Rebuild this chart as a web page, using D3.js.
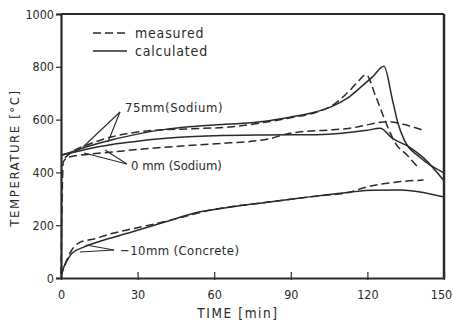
<!DOCTYPE html>
<html><head><meta charset="utf-8">
<script src="https://cdn.jsdelivr.net/npm/d3@7"></script>
<style>
body{margin:0;background:#fff;}
svg{display:block;}
text{font-family:"DejaVu Sans Condensed","DejaVu Sans",sans-serif;fill:#2a2a2a;}
</style></head><body>
<svg id="c" width="453" height="325"></svg>
<script>
// ---- data (time [min], temperature [°C]) ----
const xTicks = [0, 30, 60, 90, 120, 150];
const yTicks = [0, 200, 400, 600, 800, 1000];

const sodium75Calc = [[0,465],[5,480],[10,497],[20,524],[30,545],[40,562],[50,573],[60,580],[70,585],[80,594],[90,610],[100,630],[106,649],[112,680],[118,728],[122,762],[126.5,802],[129.8,675],[131.8,592],[134.4,523],[140.2,460],[150,398]];
const sodium75Meas = [[1.5,455],[5,482],[10,503],[20,535],[30,553],[36,559],[50,565],[66,572],[80,590],[90,607],[100,628],[106,652],[112,700],[116,740],[119.4,770],[123.3,687],[127.9,573],[131,510],[135.5,466],[140.2,415]];
const sodium0Calc  = [[0,465],[5,476],[10,488],[20,506],[30,518],[40,528],[50,535],[60,539],[80,542],[100,543],[110,548],[120,560],[125,567],[129.8,529],[136.3,497],[142,455],[150,368]];
const sodium0Meas  = [[0,15],[0.9,440],[3,458],[10,468],[20,477],[30,487],[40,495],[54,504],[66,512],[74,517],[82,528],[88,545],[94,554],[104,560],[113,567],[120,580],[125,590],[128,592],[134,582],[141.5,561]];
const concreteCalc = [[0,20],[1,40],[4.2,93],[8.7,116],[15,138],[28,175],[41,213],[54,250],[66,268],[80,286],[93,302],[113,325],[122,332],[133,333],[140,327],[150,307]];
const concreteMeas = [[0,5],[2,62],[4.2,106],[7.4,135],[14,150],[17.8,163],[25,180],[40,212],[60,260],[80,286],[100,310],[114,327],[118,340],[131,363],[142,371]];

const legendItems = [{label:"measured", dash:"8,4"},{label:"calculated", dash:null}];

const svg = d3.select("#c");
const col = "#2a2a2a";
const x = d3.scaleLinear().domain([0,150]).range([61,444]);
const y = d3.scaleLinear().domain([0,1000]).range([278,14]);

// frame
svg.append("line").attr("x1",x(0)).attr("x2",x(150)).attr("y1",y(1000)).attr("y2",y(1000)).attr("stroke",col).attr("stroke-width",2);
svg.append("line").attr("x1",x(150)).attr("x2",x(150)).attr("y1",y(1000)).attr("y2",y(0)).attr("stroke",col).attr("stroke-width",2.5);

// y axis
const ya = svg.append("g").attr("transform",`translate(${x(0)},0)`)
  .call(d3.axisLeft(y).tickValues(yTicks).tickFormat(d3.format("d")).tickSize(5).tickPadding(2));
ya.select(".domain").attr("stroke",col).attr("stroke-width",2.2);
ya.selectAll(".tick line").attr("stroke",col).attr("stroke-width",1.2);
ya.selectAll(".tick text").attr("font-size",12.5).attr("fill",col).attr("font-family",null);

// x axis
const xa = svg.append("g").attr("transform",`translate(0,${y(0)})`)
  .call(d3.axisBottom(x).tickValues(xTicks).tickSize(0).tickPadding(12));
xa.select(".domain").attr("stroke",col).attr("stroke-width",2.2);
xa.selectAll(".tick line").attr("y1",-6).attr("y2",2).attr("stroke",col).attr("stroke-width",1.2);
xa.selectAll(".tick text").attr("font-size",12.5).attr("fill",col).attr("font-family",null)
  .attr("dx",d=>d===150?-3:0);

// axis titles
svg.append("text").attr("transform","translate(19,158) rotate(-90)").attr("text-anchor","middle")
  .attr("font-size",13).attr("letter-spacing",1.6).text("TEMPERATURE [°C]");
svg.append("text").attr("x",238).attr("y",318).attr("text-anchor","middle")
  .attr("font-size",13.5).attr("letter-spacing",1.6).text("TIME [min]");

// curves
const line = d3.line().x(d=>x(d[0])).y(d=>y(d[1])).curve(d3.curveMonotoneX);
const series = [
  {d:sodium75Calc, dash:null},{d:sodium75Meas, dash:"8,4"},
  {d:sodium0Calc, dash:null},{d:sodium0Meas, dash:"8,4"},
  {d:concreteCalc, dash:null},{d:concreteMeas, dash:"8,4"}
];
svg.append("g").selectAll("path").data(series).join("path")
  .attr("d",s=>line(s.d)).attr("fill","none").attr("stroke",col)
  .attr("stroke-width",1.5).attr("stroke-dasharray",s=>s.dash);

// legend
const lg = svg.append("g");
legendItems.forEach((it,i)=>{
  const yy = 33 + i*18;
  lg.append("line").attr("x1",93).attr("x2",127).attr("y1",yy).attr("y2",yy)
    .attr("stroke",col).attr("stroke-width",1.5).attr("stroke-dasharray",it.dash);
  lg.append("text").attr("x",135).attr("y",yy+5).attr("font-size",14).attr("letter-spacing",0.8).text(it.label);
});

// annotations with leader lines
const ann = [
  {t:"75mm(Sodium)", tx:125, ty:112, ls:0.6, lines:[[120,112,83,147],[120,112,108,142]]},
  {t:"0 mm (Sodium)", tx:131, ty:170, ls:0, lines:[[127,164,84,153],[127,164,105,150]]},
  {t:"\u221210mm (Concrete)", tx:120, ty:255, ls:0.4, lines:[[114,250,80,252],[114,250,86,245]]}
];
ann.forEach(a=>{
  svg.append("text").attr("x",a.tx).attr("y",a.ty).attr("font-size",13).attr("letter-spacing",a.ls).text(a.t);
  a.lines.forEach(l=>svg.append("line").attr("x1",l[0]).attr("y1",l[1]).attr("x2",l[2]).attr("y2",l[3])
    .attr("stroke",col).attr("stroke-width",1.1));
});
</script></body></html>
